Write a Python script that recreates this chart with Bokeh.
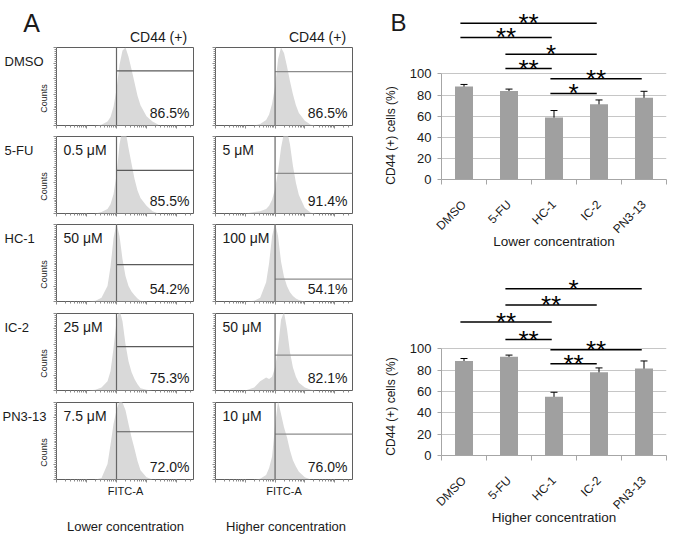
import math
from bokeh.plotting import figure
from bokeh.layouts import row, column
from bokeh.models import (Label, Span, Whisker, ColumnDataSource, FixedTicker,
                          TeeHead, Range1d, CustomJSTickFormatter)
from bokeh.embed import file_html
from bokeh.resources import INLINE
from bokeh.core.properties import value

FONT = "Liberation Sans"

# ---------------- Panel A data ----------------
conditions = ["DMSO", "5-FU", "HC-1", "IC-2", "PN3-13"]
low_conc = ["", "0.5 μM", "50 μM", "25 μM", "7.5 μM"]
high_conc = ["", "5 μM", "100 μM", "50 μM", "10 μM"]
low_pct = ["86.5%", "85.5%", "54.2%", "75.3%", "72.0%"]
high_pct = ["86.5%", "91.4%", "54.1%", "82.1%", "76.0%"]
low_gate_level = [0.70, 0.56, 0.48, 0.57, 0.62]
high_gate_level = [0.69, 0.52, 0.29, 0.46, 0.59]
gate_fitc = 2.0  # log10 FITC-A

fitc_log = [1.0, 1.3, 1.5, 1.7, 1.8, 1.9, 2.0, 2.1, 2.2, 2.3, 2.4, 2.5, 2.6, 2.7, 2.8, 3.0, 3.2, 3.4]
hist_low = [
    [0, 0, 0.01, 0.05, 0.11, 0.24, 0.46, 0.78, 0.96, 1.0, 0.88, 0.72, 0.55, 0.38, 0.26, 0.12, 0.05, 0.01],
    [0, 0, 0.02, 0.06, 0.12, 0.25, 0.50, 0.90, 1.10, 1.08, 0.85, 0.65, 0.45, 0.30, 0.20, 0.10, 0.03, 0],
    [0, 0.01, 0.05, 0.20, 0.45, 0.82, 1.02, 0.85, 0.55, 0.33, 0.20, 0.13, 0.08, 0.04, 0.01, 0, 0, 0],
    [0, 0.01, 0.04, 0.12, 0.25, 0.55, 0.90, 1.05, 0.90, 0.60, 0.38, 0.24, 0.15, 0.08, 0.03, 0.01, 0, 0],
    [0, 0, 0.02, 0.20, 0.45, 0.72, 0.90, 1.02, 1.0, 0.90, 0.72, 0.55, 0.40, 0.24, 0.12, 0.03, 0, 0],
]
hist_high = [
    [0, 0, 0.02, 0.07, 0.14, 0.28, 0.50, 0.85, 1.0, 0.93, 0.76, 0.57, 0.40, 0.26, 0.16, 0.06, 0.01, 0],
    [0, 0.02, 0.03, 0.06, 0.10, 0.18, 0.32, 0.55, 0.85, 1.05, 1.08, 0.90, 0.62, 0.40, 0.24, 0.07, 0.01, 0],
    [0, 0.01, 0.05, 0.25, 0.50, 0.85, 1.02, 0.85, 0.52, 0.32, 0.20, 0.12, 0.07, 0.04, 0.02, 0, 0, 0],
    [0, 0.04, 0.12, 0.17, 0.15, 0.18, 0.30, 0.55, 0.92, 1.02, 0.80, 0.50, 0.30, 0.18, 0.10, 0.04, 0.01, 0],
    [0, 0, 0.01, 0.06, 0.15, 0.30, 0.70, 1.02, 0.85, 0.68, 0.55, 0.38, 0.25, 0.17, 0.10, 0.03, 0, 0],
]

# ---------------- Panel B data ----------------
categories = ["DMSO", "5-FU", "HC-1", "IC-2", "PN3-13"]
low_mean = [88.0, 83.8, 58.8, 71.3, 77.5]
low_err = [2.0, 1.8, 6.5, 4.0, 6.0]
high_mean = [88.5, 92.5, 55.0, 78.0, 81.5]
high_err = [2.3, 1.5, 4.2, 4.0, 7.0]
y_ticks = [0, 20, 40, 60, 80, 100]

low_sig_pairs = [(0, 3), (0, 2), (1, 3), (1, 2), (2, 4), (2, 3)]
low_sig_marks = ["**", "**", "*", "**", "**", "*"]
low_sig_levels = [148, 134.5, 118.5, 105, 95.5, 81.5]
high_sig_pairs = [(1, 4), (1, 3), (0, 2), (1, 2), (2, 4), (2, 3)]
high_sig_marks = ["*", "**", "**", "**", "**", "**"]
high_sig_levels = [156, 141, 125, 108.5, 99, 86]

# ---------------- styles / geometry ----------------
X_MAX = 4.6
HIST_FILL = "#d9d9d9"
FRAME_COL = "#5f5f5f"
TICK_COL = "#8a8a8a"
BAR_COL = "#a0a0a0"
AXIS_GRAY = "#a6a6a6"
TXT = "#1a1a1a"

ROW_TOP = [47, 136, 224, 313, 402]
ROW_H = [78, 77, 77, 77, 77]
MID_BOTTOM = 486
TOTAL_H = 534
LAB_W = 48
COL1 = dict(left=8, fw=138, right=0)
COL2 = dict(left=21, fw=137, right=18)
PANEL_A_W = LAB_W + sum(COL1.values()) + sum(COL2.values())

x_minor = [d + math.log10(k) for d in range(0, 5) for k in range(1, 10)
           if d + math.log10(k) <= X_MAX]
y_minor = [i * 0.025 for i in range(41)]
blank = CustomJSTickFormatter(code="return ''")


def lbl(p, x, y, text, size, align="left", baseline="middle", angle=0.0, color=TXT):
    p.add_layout(Label(x=x, y=y, x_units="screen", y_units="screen", text=text,
                       text_font=FONT, text_font_size=size, text_color=color,
                       text_align=align, text_baseline=baseline, angle=angle))


def text_fig(w, h):
    p = figure(frame_width=w, frame_height=h, title=None, min_border=0,
               x_range=Range1d(0, 1), y_range=Range1d(0, 1),
               x_axis_location=None, y_axis_location=None,
               output_backend="svg", toolbar_location=None)
    p.outline_line_color = None
    p.xgrid.visible = False
    p.ygrid.visible = False
    return p


def row_bottom(r):
    return ROW_TOP[r + 1] if r < 4 else MID_BOTTOM


def hist_fig(col, r):
    g = COL1 if col == 0 else COL2
    fh = ROW_H[r]
    p = figure(frame_width=g["fw"], frame_height=fh, title=None,
               x_range=Range1d(0, X_MAX), y_range=Range1d(0, 1.0),
               output_backend="svg", toolbar_location=None,
               min_border=0, min_border_left=g["left"], min_border_right=g["right"],
               min_border_top=0,
               min_border_bottom=row_bottom(r) - ROW_TOP[r] - fh)
    p.outline_line_color = FRAME_COL
    p.outline_line_width = 1
    p.xgrid.visible = False
    p.ygrid.visible = False

    counts = (hist_low if col == 0 else hist_high)[r]
    p.varea(x=fitc_log, y1=[0] * len(fitc_log), y2=counts, fill_color=HIST_FILL)
    p.add_layout(Span(location=gate_fitc, dimension="height",
                      line_color="#666666", line_width=1.2))
    lev = (low_gate_level if col == 0 else high_gate_level)[r]
    p.segment(x0=[gate_fitc], y0=[lev], x1=[X_MAX], y1=[lev],
              line_color="#5a5a5a" if col == 0 else "#8c8c8c", line_width=1.2)

    for ax, ticks, minor in ((p.xaxis[0], [0, 1, 2, 3, 4], x_minor),
                             (p.yaxis[0], [0, 0.2, 0.4, 0.6, 0.8, 1.0], y_minor)):
        ax.ticker = FixedTicker(ticks=ticks, minor_ticks=minor)
        ax.formatter = blank
        ax.major_label_standoff = 0
        ax.major_label_text_font_size = "0px"
        ax.axis_line_color = None
        ax.major_tick_in = 0
        ax.major_tick_out = 3
        ax.minor_tick_in = 0
        ax.minor_tick_out = 2
        ax.major_tick_line_color = TICK_COL
        ax.minor_tick_line_color = TICK_COL

    conc = (low_conc if col == 0 else high_conc)[r]
    pct = (low_pct if col == 0 else high_pct)[r]
    if conc:
        lbl(p, 7, fh - 13, conc, "14px")
    lbl(p, g["fw"] - 5, 13, pct, "14px", align="right")
    return p


def bar_fig(mean, err, pairs, marks, levels, xtitle, frame_h, ymax, btop, bbottom):
    xs = list(range(len(categories)))
    p = figure(frame_width=225, frame_height=frame_h, title=None,
               x_range=Range1d(-0.5, len(categories) - 0.5), y_range=Range1d(0, ymax),
               output_backend="svg", toolbar_location=None, min_border=0,
               min_border_left=34, min_border_right=17,
               min_border_top=btop, min_border_bottom=bbottom)
    p.outline_line_color = None
    p.xgrid.visible = False
    p.ygrid.grid_line_color = "#c6c6c6"
    p.ygrid.grid_line_width = 1

    p.vbar(x=xs, top=mean, width=0.4, fill_color=BAR_COL, line_color=None)
    src = ColumnDataSource(dict(x=xs, upper=[m + e for m, e in zip(mean, err)],
                                lower=[m - e for m, e in zip(mean, err)]))
    p.add_layout(Whisker(source=src, base="x", upper="upper", lower="lower",
                         line_color="black", line_width=1,
                         upper_head=TeeHead(size=7, line_color="black", line_width=1),
                         lower_head=TeeHead(size=7, line_color="black", line_width=1)))

    pad0, pad1 = 0.08, 0.05
    x0 = [a - pad0 for a, b in pairs]
    x1 = [b - pad1 for a, b in pairs]
    p.segment(x0=x0, y0=levels, x1=x1, y1=levels, line_color="black", line_width=1.5)
    p.text(x=[(a + b) / 2 for a, b in zip(x0, x1)], y=levels, text=marks,
           text_align="center", text_baseline="middle", text_color="black",
           text_font=value(FONT), text_font_size="26px")

    ax = p.xaxis[0]
    ax.ticker = FixedTicker(ticks=xs, minor_ticks=[x - 0.5 for x in xs] + [xs[-1] + 0.5])
    ax.major_label_overrides = {x: c for x, c in zip(xs, categories)}
    ax.major_label_orientation = math.pi / 4
    ax.major_tick_line_color = None
    ax.minor_tick_line_color = AXIS_GRAY
    ax.minor_tick_in = 0
    ax.minor_tick_out = 5
    ax.axis_line_color = AXIS_GRAY
    ax.major_label_text_font = FONT
    ax.major_label_text_font_size = "12px"
    ax.major_label_text_color = TXT
    ax.major_label_standoff = 17
    ax.axis_label = xtitle
    ax.axis_label_text_font = FONT
    ax.axis_label_text_font_size = "13.5px"
    ax.axis_label_text_font_style = "normal"
    ax.axis_label_text_color = TXT
    ax.axis_label_standoff = -10

    ay = p.yaxis[0]
    ay.ticker = FixedTicker(ticks=y_ticks)
    ay.bounds = (0, 100)
    ay.axis_line_color = AXIS_GRAY
    ay.major_tick_line_color = AXIS_GRAY
    ay.major_tick_in = 0
    ay.major_tick_out = 4
    ay.minor_tick_line_color = None
    ay.major_label_text_font = FONT
    ay.major_label_text_font_size = "13px"
    ay.major_label_text_color = TXT
    ay.major_label_standoff = 6
    return p


# ---- Panel A assembly ----
hdrA = text_fig(PANEL_A_W, ROW_TOP[0])
lbl(hdrA, 31, ROW_TOP[0] - 22, "A", "25px", align="center", baseline="alphabetic")
c1_mid = LAB_W + COL1["left"] + 102
c2_mid = LAB_W + sum(COL1.values()) + COL2["left"] + 102
lbl(hdrA, c1_mid, 11, "CD44 (+)", "14px", align="center")
lbl(hdrA, c2_mid, 11, "CD44 (+)", "14px", align="center")

labA = text_fig(LAB_W, MID_BOTTOM - ROW_TOP[0])
for r in range(5):
    lbl(labA, 4 if r < 4 else 2, MID_BOTTOM - (ROW_TOP[r] + 14), conditions[r], "13px")
    lbl(labA, 43, MID_BOTTOM - (ROW_TOP[r] + ROW_H[r] - 27), "Counts", "9px",
        align="center", angle=math.pi / 2)

ftrA = text_fig(PANEL_A_W, TOTAL_H - MID_BOTTOM)
c1_c = LAB_W + COL1["left"] + COL1["fw"] / 2
c2_c = LAB_W + sum(COL1.values()) + COL2["left"] + COL2["fw"] / 2
lbl(ftrA, c1_c, 44, "FITC-A", "11px", align="center")
lbl(ftrA, c2_c, 44, "FITC-A", "11px", align="center")
lbl(ftrA, c1_c, 8, "Lower concentration", "13px", align="center")
lbl(ftrA, c2_c + 2, 8, "Higher concentration", "13px", align="center")

colA1 = column(*[hist_fig(0, r) for r in range(5)])
colA2 = column(*[hist_fig(1, r) for r in range(5)])
panelA = column(hdrA, row(labA, colA1, colA2), ftrA)

# ---- Panel B assembly ----
top = bar_fig(low_mean, low_err, low_sig_pairs, low_sig_marks, low_sig_levels,
              "Lower concentration", 169, 160, 10, 76)
bottom = bar_fig(high_mean, high_err, high_sig_pairs, high_sig_marks, high_sig_levels,
                 "Higher concentration", 188, 176, 12, 79)
labB = text_fig(36, TOTAL_H)
lbl(labB, 20, TOTAL_H - 22, "B", "24px", baseline="alphabetic")
lbl(labB, 20, TOTAL_H - 135, "CD44 (+) cells (%)", "12px", align="center", angle=math.pi / 2)
lbl(labB, 20, TOTAL_H - 406, "CD44 (+) cells (%)", "12px", align="center", angle=math.pi / 2)
panelB = row(labB, column(top, bottom))

layout = row(panelA, panelB)

open("out.html", "w").write(file_html(layout, INLINE))
